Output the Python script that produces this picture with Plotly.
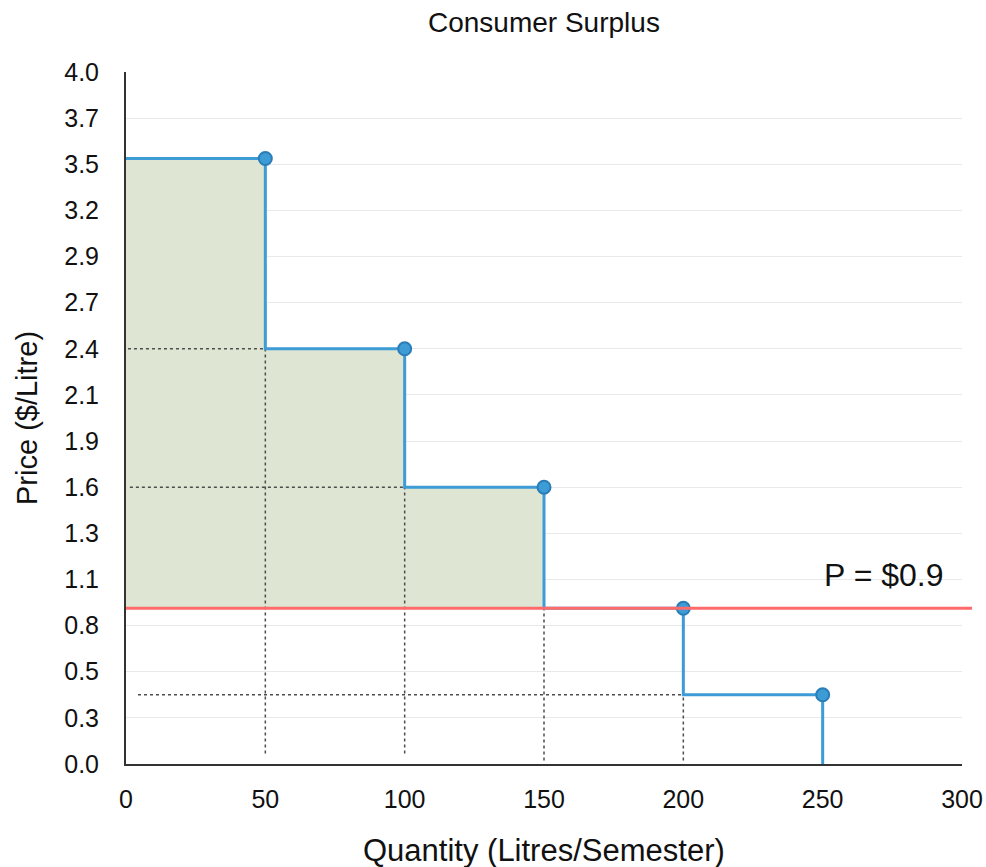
import numpy as np
import plotly.graph_objects as go

# Demand schedule: willingness to pay per block of litres
quantities = [50, 100, 150, 200, 250]
prices = [3.5, 2.4, 1.6, 0.9, 0.4]
market_price = 0.9

# Axis ticks
x_ticks = [0, 50, 100, 150, 200, 250, 300]
y_tick_labels = ["0.0", "0.3", "0.5", "0.8", "1.1", "1.3", "1.6", "1.9",
                 "2.1", "2.4", "2.7", "2.9", "3.2", "3.5", "3.7", "4.0"]
y_max = 4.0
y_tick_vals = list(np.linspace(0, y_max, len(y_tick_labels)))

FONT = "Liberation Sans, Arial, Helvetica, sans-serif"
BLUE = "#3d9bd6"
BLUE_EDGE = "#2a7db6"
RED = "#ff6a6a"
DOT = "#4d4d4d"
FILL = "#dee6d3"

fig = go.Figure()

# Consumer surplus: area between the demand steps and the market price
surplus_x, surplus_y = [0], [market_price]
left = 0
for q, p in zip(quantities, prices):
    if p <= market_price:
        break
    surplus_x += [left, q]
    surplus_y += [p, p]
    left = q
surplus_x += [left]
surplus_y += [market_price]
fig.add_trace(go.Scatter(
    x=surplus_x, y=surplus_y, mode="lines", fill="toself",
    fillcolor=FILL, line=dict(width=0), hoverinfo="skip"))

# Dotted guide lines from each step down to the axis
for q, p in zip(quantities[:-1], prices[1:]):
    bottom = 0.06 if q < 150 else 0.02
    fig.add_trace(go.Scatter(
        x=[q, q], y=[bottom, p], mode="lines",
        line=dict(color=DOT, width=1.5, dash="dot"), hoverinfo="skip"))

# Dotted guide lines across to the price axis
guide_rows = [(prices[1], quantities[0], 0.7),
              (prices[2], quantities[1], 1.4),
              (prices[4], quantities[3], 4.3)]
for p, q, start in guide_rows:
    fig.add_trace(go.Scatter(
        x=[start, q], y=[p, p], mode="lines",
        line=dict(color=DOT, width=1.5, dash="dot"), hoverinfo="skip"))

# Demand step function
step_x = [0] + quantities
step_y = prices + [0]
fig.add_trace(go.Scatter(
    x=step_x, y=step_y, mode="lines", line_shape="hv",
    line=dict(color=BLUE, width=3), hoverinfo="skip"))

# Demand points
fig.add_trace(go.Scatter(
    x=quantities, y=prices, mode="markers",
    marker=dict(size=13, color=BLUE, line=dict(color=BLUE_EDGE, width=2)),
    hoverinfo="skip"))

# Market price line
fig.add_shape(type="line", xref="paper", yref="y",
              x0=0, x1=1.012, y0=market_price, y1=market_price,
              line=dict(color=RED, width=3), layer="above")

fig.add_annotation(x=272, y=market_price + 0.19, xref="x", yref="y",
                   text=f"P = ${market_price}", showarrow=False,
                   xanchor="center", yanchor="middle",
                   font=dict(family=FONT, size=32, color="#111111"))

# Titles
fig.add_annotation(x=0.5, y=1.0, xref="paper", yref="paper", yshift=50,
                   xanchor="center", yanchor="middle",
                   text="Consumer Surplus", showarrow=False,
                   font=dict(family=FONT, size=28, color="#111111"))
fig.add_annotation(x=0.5, y=0, xref="paper", yref="paper", yshift=-86,
                   xanchor="center", yanchor="middle",
                   text="Quantity (Litres/Semester)", showarrow=False,
                   font=dict(family=FONT, size=31, color="#111111"))
fig.add_annotation(x=0, y=0.5, xref="paper", yref="paper", xshift=-99,
                   xanchor="center", yanchor="middle",
                   text="Price ($/Litre)", showarrow=False, textangle=-90,
                   font=dict(family=FONT, size=29, color="#111111"))

fig.update_layout(
    width=986, height=867,
    margin=dict(l=126, r=24, t=72, b=103),
    paper_bgcolor="white", plot_bgcolor="white",
    showlegend=False,
    font=dict(family=FONT, size=25, color="#111111"),
    xaxis=dict(
        range=[0, 300], tickvals=x_ticks, showgrid=False, zeroline=False,
        showline=True, linecolor="#333333", linewidth=2, automargin=False,
        ticks="", ticklabelstandoff=12, fixedrange=True),
    yaxis=dict(
        range=[0, y_max], tickvals=y_tick_vals, ticktext=y_tick_labels,
        showgrid=True, gridcolor="#e9e9e9", gridwidth=1, zeroline=False,
        showline=True, linecolor="#333333", linewidth=2, automargin=False,
        ticks="", ticklabelstandoff=20, fixedrange=True),
)

fig.write_html("out.html")
